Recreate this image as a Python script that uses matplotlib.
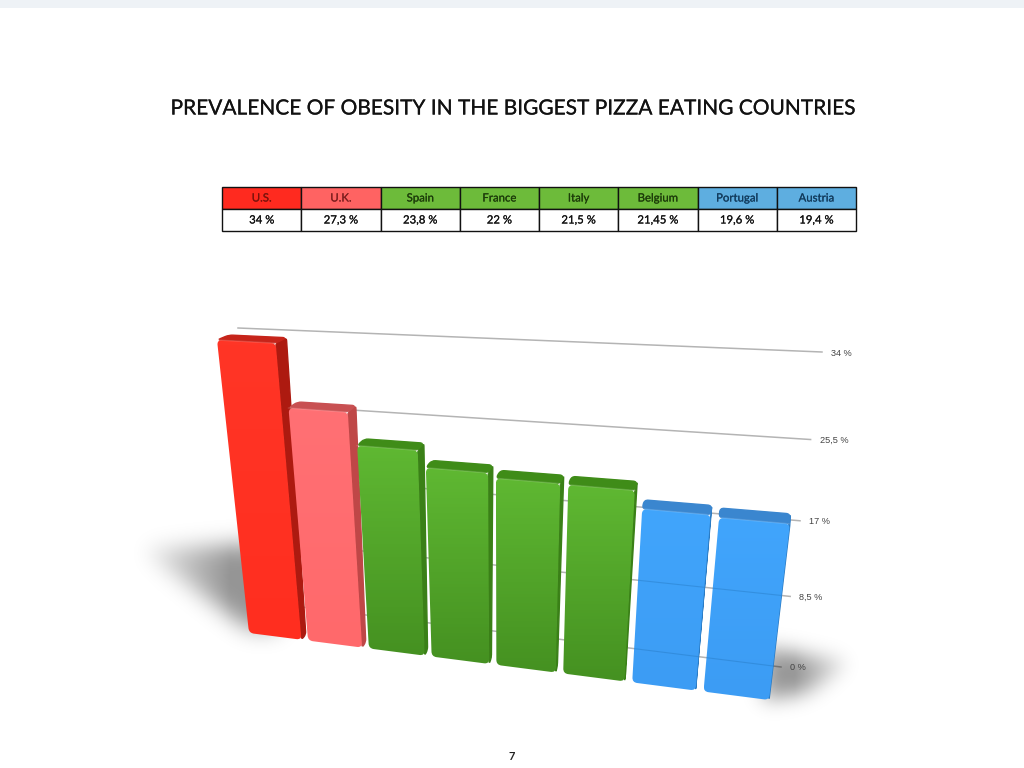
#!/usr/bin/env python3
"""Slide with a table and a perspective 3D-look bar chart of obesity prevalence."""

import matplotlib

matplotlib.use("Agg")
import matplotlib.patheffects as pe
import matplotlib.pyplot as plt
import numpy as np
from matplotlib.patches import PathPatch, Rectangle
from matplotlib.path import Path

COUNTRIES = ["U.S.", "U.K.", "Spain", "France", "Italy", "Belgium", "Portugal", "Austria"]
VALUES = [34, 27.3, 23.8, 22, 21.5, 21.45, 19.6, 19.4]
VALUE_LABELS = ["34 %", "27,3 %", "23,8 %", "22 %", "21,5 %", "21,45 %", "19,6 %", "19,4 %"]
GRID_VALUES = [34, 25.5, 17, 8.5, 0]
GRID_LABELS = ["34 %", "25,5 %", "17 %", "8,5 %", "0 %"]
GROUPS = ["red", "pink", "green", "green", "green", "green", "blue", "blue"]

HEADER_COLORS = {"red": "#ff2a1f", "pink": "#ff6362", "green": "#6dbb3a", "blue": "#5eaee0"}
HEADER_TEXT = {"red": "#7c130c", "pink": "#7f1f1f", "green": "#1d3d0a", "blue": "#123c5e"}
# front top, front bottom, side, top
FACE_COLORS = {
    "red": ("#ff3526", "#ff2e1f", "#ad1a10", "#c6241a"),
    "pink": ("#ff7074", "#ff696b", "#bf4747", "#c85052"),
    "green": ("#5fb832", "#459121", "#3a8017", "#3f8c18"),
    "blue": ("#41a5fc", "#3c9cf4", "#2b7bc3", "#3a86cf"),
}

BAR_WIDTH = 0.89
U_MAX = 7 + BAR_WIDTH
V_MAX = 34


def homography(corners):
    """Map (u, v) of the chart rectangle to pixels, corners = 00, W0, WV, 0V."""
    src = [(0, 0), (U_MAX, 0), (U_MAX, V_MAX), (0, V_MAX)]
    a, b = [], []
    for (u, v), (x, y) in zip(src, corners):
        a.append([u, v, 1, 0, 0, 0, -u * x, -v * x])
        a.append([0, 0, 0, u, v, 1, -u * y, -v * y])
        b += [x, y]
    return np.append(np.linalg.solve(np.array(a, float), np.array(b, float)), 1).reshape(3, 3)


def project(h, u, v):
    p = h @ np.array([u, v, 1.0])
    return p[:2] / p[2]


FRONT = homography([(249, 633), (769, 700), (808, 372), (217, 340)])
BACK = homography([(254, 628), (769, 692), (808, 362), (229, 335)])
WALL = homography([(270, 603), (781, 667), (822, 352), (238, 328)])


def rounded_path(points, r):
    points = np.asarray(points)
    verts, codes = [], []
    n = len(points)
    for i in range(n):
        p, prev, nxt = points[i], points[i - 1], points[(i + 1) % n]
        d0, d1 = np.linalg.norm(prev - p), np.linalg.norm(nxt - p)
        rr = min(r, 0.45 * d0, 0.45 * d1)
        verts += [p + (prev - p) / d0 * rr, p, p + (nxt - p) / d1 * rr]
        codes += [Path.MOVETO if i == 0 else Path.LINETO, Path.CURVE3, Path.CURVE3]
    verts.append(verts[0])
    codes.append(Path.CLOSEPOLY)
    return Path(verts, codes)


def blurred_shadow(ax, poly, sigma, strength, ramp):
    xx, yy = np.meshgrid(np.arange(1024) + 0.5, np.arange(768) + 0.5)
    inside = Path(poly).contains_points(np.c_[xx.ravel(), yy.ravel()]).reshape(xx.shape).astype(float)
    fx = np.fft.fftfreq(1024)[None, :]
    fy = np.fft.fftfreq(768)[:, None]
    kernel = np.exp(-2 * (np.pi * sigma) ** 2 * (fx**2 + fy**2))
    soft = np.real(np.fft.ifft2(np.fft.fft2(inside) * kernel)).clip(0, 1)
    rgba = np.zeros((768, 1024, 4))
    rgba[..., 3] = soft * strength * ramp(xx)
    ax.imshow(rgba, extent=(0, 1024, 768, 0), aspect="auto", zorder=2)


plt.rcParams["font.family"] = ["Lato", "DejaVu Sans"]
fig = plt.figure(figsize=(10.24, 7.68), dpi=100)
ax = fig.add_axes([0, 0, 1, 1])
ax.axis("off")


def heavier(width, color):
    return [pe.withStroke(linewidth=width, foreground=color)]


# page chrome and title
ax.add_patch(Rectangle((0, 0), 1024, 8, color="#eef2f6", lw=0, zorder=1))
ax.text(512, 108.5, "PREVALENCE OF OBESITY IN THE BIGGEST PIZZA EATING COUNTRIES",
        ha="center", va="center", fontsize=15.05, color="#111111", path_effects=heavier(0.15, "#111111"))
ax.text(511.5, 756, "7", ha="center", va="center", fontsize=8, fontweight="bold", color="#222222")

# table
left, cell_w = 222, (856 - 222) / len(COUNTRIES)
for i, (name, label, group) in enumerate(zip(COUNTRIES, VALUE_LABELS, GROUPS)):
    x = left + i * cell_w
    ax.add_patch(Rectangle((x, 187), cell_w, 22, fc=HEADER_COLORS[group], ec="#111111", lw=1, zorder=3))
    ax.add_patch(Rectangle((x, 209), cell_w, 22, fc="white", ec="#111111", lw=1, zorder=3))
    ax.text(x + cell_w / 2, 198, name, ha="center", va="center", fontsize=8.2,
            color=HEADER_TEXT[group], zorder=4, path_effects=heavier(0.12, HEADER_TEXT[group]))
    ax.text(x + cell_w / 2, 220, label, ha="center", va="center", fontsize=8.2,
            color="#111111", zorder=4, path_effects=heavier(0.12, "#111111"))

# back wall grid lines and their labels
for value, label in zip(GRID_VALUES, GRID_LABELS):
    a, b = project(WALL, 0, value), project(WALL, U_MAX, value)
    ax.plot([a[0], b[0]], [a[1], b[1]], color="#b4b4b4", lw=1.1, zorder=1.5)
    ax.text(b[0] + 9, b[1] + 1, label, ha="left", va="center", fontsize=6.6,
            family="Liberation Sans", color="#444444", zorder=4)

# soft floor shadows, anchored on the first and last bar base
base_l = project(FRONT, 0, 0)
base_r = project(FRONT, U_MAX, 0)
blurred_shadow(ax, base_l + np.array([(-112, -84), (30, -90), (30, -4), (0, -4)]), 11, 0.42,
               lambda x: np.clip((x - 120) / 110, 0, 1))
blurred_shadow(ax, base_r + np.array([(-5, -52), (85, -38), (40, -8), (-5, 0)]), 10, 0.42,
               lambda x: np.clip((870 - x) / 75, 0, 1))

# bars
for i, (value, group) in enumerate(zip(VALUES, GROUPS)):
    u0, u1 = i, i + BAR_WIDTH
    top_c, bot_c, side_c, roof_c = FACE_COLORS[group]
    z = 5 + i
    fbl, fbr = project(FRONT, u0, 0), project(FRONT, u1, 0)
    ftl, ftr = project(FRONT, u0, value), project(FRONT, u1, value)
    bbr = project(BACK, u1, 0)
    btl, btr = project(BACK, u0, value), project(BACK, u1, value)

    side_path = rounded_path([ftr, btr, bbr, fbr], 3)
    roof_path = rounded_path([ftl, ftr, btr, btl], 4)
    ax.add_patch(PathPatch(side_path, fc=side_c, ec=side_c, lw=1, zorder=z))
    ax.add_patch(PathPatch(roof_path, fc=roof_c, ec=roof_c, lw=1, zorder=z))

    corners = np.array([ftl, ftr, fbr, fbl])
    clip = PathPatch(rounded_path(corners, 5), fc="none", ec="none", zorder=z)
    ax.add_patch(clip)
    c0, c1 = np.array(matplotlib.colors.to_rgb(top_c)), np.array(matplotlib.colors.to_rgb(bot_c))
    grad = c0 + (c1 - c0) * np.linspace(0, 1, 64)[:, None]
    img = ax.imshow(grad[:, None, :], aspect="auto", zorder=z + 0.1,
                    extent=(corners[:, 0].min(), corners[:, 0].max(), corners[:, 1].max(), corners[:, 1].min()))
    img.set_clip_path(clip)
    ax.plot([ftl[0], ftr[0]], [ftl[1], ftr[1]], color="white", alpha=0.15, lw=1, zorder=z + 0.2)

    # the wall lines show faintly through the blue bars
    if group == "blue":
        for grid_value in GRID_VALUES[3:]:
            a, b = project(WALL, 0, grid_value), project(WALL, U_MAX, grid_value)
            line, = ax.plot([a[0], b[0]], [a[1], b[1]], color="#1f6fb5", alpha=0.35, lw=0.8, zorder=z + 0.2)
            line.set_clip_path(clip)

ax.set_xlim(0, 1024)
ax.set_ylim(768, 0)
fig.savefig("out.png", dpi=100, facecolor="white")
